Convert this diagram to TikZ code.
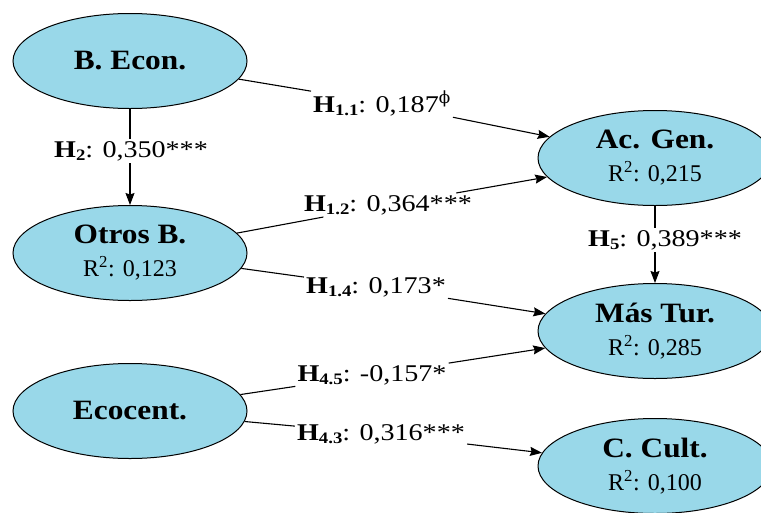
\documentclass[tikz,border=0pt]{standalone}
\usepackage{fontspec}
\setmainfont{Liberation Serif}[BoldFeatures={FakeStretch=1.12}]
\newfontfamily\labfont{Liberation Serif}[FakeStretch=1.17]
\newfontfamily\phifont{DejaVu Serif}
\usetikzlibrary{shapes.geometric,arrows.meta}
\definecolor{nodeblue}{RGB}{153,216,233}
\tikzset{
  ell/.style={ellipse, draw=black, line width=1pt, fill=nodeblue,
    minimum width=234pt, minimum height=95pt, inner sep=0pt, align=center,
    font=\fontsize{28}{33}\selectfont},
  lab/.style={inner sep=2pt, font=\fontsize{24}{26}\selectfont\labfont},
  con/.style={line width=1.1pt, draw=black},
  arr/.style={con, -{Stealth[length=12pt,width=9pt,inset=1.5pt]}}
}
\newcommand\rsq[1]{{\fontsize{24}{33}\selectfont R\textsuperscript{2}: #1}}
\newcommand\hyp[1]{\textbf{H\raisebox{-3pt}{\fontsize{16}{16}\selectfont #1}}}
\begin{document}
\begin{tikzpicture}[x=1pt,y=-1pt]
\useasboundingbox (0,0) rectangle (761,512);
\clip (0,0) rectangle (761,512);
% nodes
\node[ell] (bec) at (130,61) {\textbf{B. Econ.}};
\node[ell] (otr) at (130,253) {\textbf{Otros B.}\\\rsq{0,123}};
\node[ell] (eco) at (130,411) {\textbf{Ecocent.}};
\node[ell] (acg) at (655,158) {\textbf{Ac. Gen.}\\\rsq{0,215}};
\node[ell] (mas) at (655,331) {\textbf{Más Tur.}\\\rsq{0,285}};
\node[ell] (ccu) at (655,466) {\textbf{C. Cult.}\\\rsq{0,100}};
% labels
\node[lab] (h2) at (131,151) {\hyp{2}: 0,350***};
\node[lab] (h11) at (382,103) {\hyp{1.1}: 0,187\textsuperscript{\phifont ϕ}};
\node[lab] (h12) at (388,205) {\hyp{1.2}: 0,364***};
\node[lab] (h14) at (376,287) {\hyp{1.4}: 0,173*};
\node[lab] (h45) at (372,375) {\hyp{4.5}: -0,157*};
\node[lab] (h43) at (381,434) {\hyp{4.3}: 0,316***};
\node[lab] (h5) at (665,240) {\hyp{5}: 0,389***};
% connectors
\draw[con] (bec) -- (bec |- h2.north);
\draw[arr] (otr |- h2.south) -- (otr);
\draw[con] (bec) -- (h11);
\draw[arr] (h11) -- (acg);
\draw[con] (otr) -- (h12);
\draw[arr] (h12) -- (acg);
\draw[con] (otr) -- (h14);
\draw[arr] (h14) -- (mas);
\draw[con] (eco) -- (h45);
\draw[arr] (h45) -- (mas);
\draw[con] (eco) -- (h43);
\draw[arr] (h43) -- (ccu);
\draw[con] (acg) -- (acg |- h5.north);
\draw[arr] (mas |- h5.south) -- (mas);
\end{tikzpicture}
\end{document}
